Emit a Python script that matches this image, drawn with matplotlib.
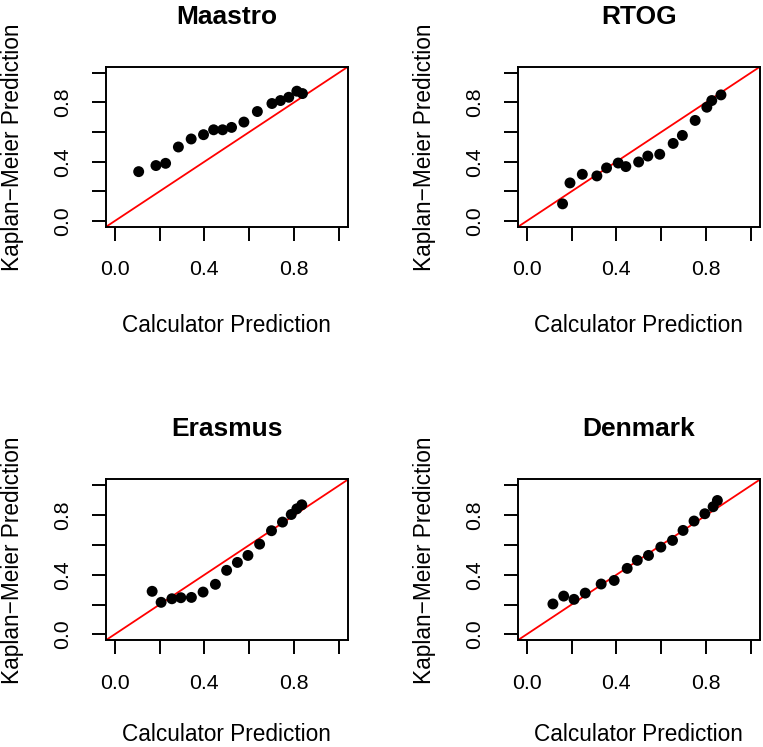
import matplotlib
matplotlib.use("Agg")
import matplotlib.pyplot as plt

plt.rcParams['font.family'] = ['Liberation Sans', 'DejaVu Sans']

titles = ["Maastro", "RTOG", "Erasmus", "Denmark"]

# calculator prediction (x) vs Kaplan-Meier prediction (y), one pair per group
maastro_x = [0.107, 0.184, 0.227, 0.284, 0.341, 0.396, 0.441, 0.481, 0.521, 0.576,
             0.636, 0.701, 0.739, 0.776, 0.812, 0.837]
maastro_y = [0.333, 0.374, 0.389, 0.499, 0.553, 0.582, 0.615, 0.615, 0.631, 0.667,
             0.738, 0.792, 0.812, 0.834, 0.875, 0.859]

rtog_x = [0.160, 0.193, 0.248, 0.313, 0.356, 0.408, 0.442, 0.499, 0.540, 0.593,
          0.653, 0.694, 0.751, 0.803, 0.825, 0.866]
rtog_y = [0.116, 0.257, 0.315, 0.304, 0.358, 0.391, 0.367, 0.398, 0.438, 0.450,
          0.523, 0.577, 0.678, 0.767, 0.812, 0.850]

erasmus_x = [0.167, 0.207, 0.255, 0.295, 0.342, 0.394, 0.449, 0.499, 0.547, 0.594,
             0.646, 0.699, 0.748, 0.787, 0.812, 0.834]
erasmus_y = [0.289, 0.215, 0.239, 0.246, 0.248, 0.284, 0.336, 0.430, 0.483, 0.530,
             0.606, 0.696, 0.754, 0.805, 0.843, 0.870]

denmark_x = [0.117, 0.165, 0.211, 0.261, 0.332, 0.390, 0.448, 0.493, 0.543, 0.598,
             0.650, 0.697, 0.746, 0.794, 0.831, 0.850]
denmark_y = [0.204, 0.257, 0.235, 0.277, 0.338, 0.362, 0.443, 0.497, 0.530, 0.586,
             0.631, 0.698, 0.761, 0.810, 0.857, 0.899]

data = [(maastro_x, maastro_y), (rtog_x, rtog_y),
        (erasmus_x, erasmus_y), (denmark_x, denmark_y)]

ticks = [0.0, 0.2, 0.4, 0.6, 0.8, 1.0]
tick_labels = ["0.0", "", "0.4", "", "0.8", ""]

W, H = 763, 747
fig = plt.figure(figsize=(W / 100, H / 100), dpi=100)

# panel boxes in pixels: left, top, width, height
boxes = [(105.7, 66.7, 242.3, 160.3), (517.7, 66.7, 242.3, 160.3),
         (105.7, 479.5, 242.3, 160.8), (517.7, 479.5, 242.3, 160.8)]

for i, ((px, py, pw, ph), title, (xs, ys)) in enumerate(zip(boxes, titles, data)):
    ax = fig.add_axes([px / W, 1 - (py + ph) / H, pw / W, ph / H])
    ax.set_xlim(-0.04, 1.04)
    ax.set_ylim(-0.04, 1.04)
    ax.plot([-0.04, 1.04], [-0.04, 1.04], color='red', lw=1.3, zorder=2)
    ax.scatter(xs, ys, s=62, color='black', edgecolors='none', zorder=3)
    ax.set_xticks(ticks)
    ax.set_xticklabels(tick_labels)
    ax.set_yticks(ticks)
    ax.set_yticklabels(tick_labels, rotation=90, va='center')
    ax.tick_params(length=10, width=1.4, labelsize=15.3, pad=14)
    for sp in ax.spines.values():
        sp.set_linewidth(1.4)
    ax.set_title(title, fontsize=19, fontweight='bold', pad=31)
    # bottom row sits right at the figure edge, so pull its label up a touch
    ax.set_xlabel("Calculator Prediction", fontsize=16.3,
                  labelpad=25 if i < 2 else 22)
    ax.set_ylabel("Kaplan\u2212Meier Prediction", fontsize=16.3, labelpad=21)

fig.savefig("out.png", dpi=100)
